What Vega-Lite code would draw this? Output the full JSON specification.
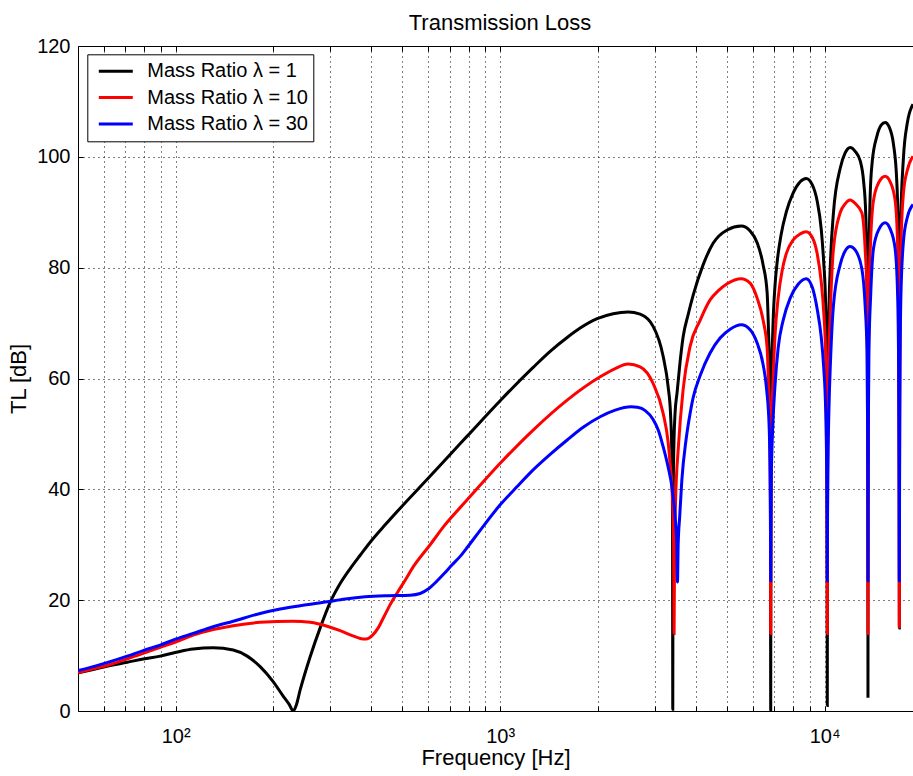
{
  "$schema": "https://vega.github.io/schema/vega-lite/v6.json",
  "autosize": {"type": "none"},
  "padding": {"left": 78, "top": 46, "right": 0, "bottom": 65},
  "width": 835,
  "height": 665,
  "background": "white",
  "config": {
    "font": "Liberation Sans",
    "view": {"stroke": null},
    "axis": {
      "domainColor": "black", "domainWidth": 1, "tickColor": "black", "tickWidth": 1,
      "labelColor": "black", "titleColor": "black", "labelFont": "Liberation Sans", "titleFont": "Liberation Sans",
      "labelFontSize": 20, "titleFontSize": 22, "titleFontWeight": "normal",
      "gridColor": "black", "gridDash": [1, 4], "gridOpacity": 1, "gridWidth": 1
    },
    "legend": {"labelFont": "Liberation Sans"}
  },
  "title": {"text": "Transmission Loss", "fontSize": 22, "fontWeight": "normal", "font": "Liberation Sans", "color": "black", "frame": "group", "anchor": "middle", "dx": 4.5, "dy": 32, "offset": 16, "baseline": "alphabetic"},
  "datasets": {
    "k": [
      {"f":50,"tl":6.9},{"f":55.7,"tl":7.5},{"f":62.8,"tl":8.2},{"f":70.9,"tl":8.8},{"f":79.4,"tl":9.4},{"f":89.6,"tl":9.9},{"f":100.4,"tl":10.6},{"f":113.2,"tl":11.2},{"f":130.5,"tl":11.4},{"f":150.4,"tl":11.0},{"f":166.1,"tl":9.9},{"f":182.1,"tl":8.0},{"f":199.7,"tl":5.3},{"f":214.4,"tl":2.7},{"f":223.8,"tl":1.2},{"f":230.2,"tl":0.0},{"f":235.1,"tl":1.0},{"f":241.9,"tl":3.8},{"f":259.7,"tl":9.8},{"f":278.8,"tl":15.0},{"f":299.3,"tl":19.6},{"f":321.3,"tl":23.0},{"f":345.0,"tl":25.7},{"f":370.3,"tl":28.1},{"f":403.2,"tl":30.9},{"f":442.2,"tl":33.6},{"f":491.9,"tl":36.6},{"f":600,"tl":42.0},{"f":701.3,"tl":46.3},{"f":791.3,"tl":49.6},{"f":1000,"tl":56.0},{"f":1263.9,"tl":62.0},{"f":1425.9,"tl":64.9},{"f":1608.7,"tl":67.4},{"f":1764.1,"tl":69.1},{"f":1990,"tl":70.8},{"f":2230,"tl":71.7},{"f":2480,"tl":72.0},{"f":2700,"tl":71.6},{"f":2961,"tl":69.4},{"f":3179,"tl":64},{"f":3294,"tl":58.5},{"f":3351,"tl":53.5},{"f":3384.7,"tl":45},{"f":3398,"tl":35},{"f":3404,"tl":0.3},{"f":3410,"tl":35},{"f":3423.4,"tl":45},{"f":3457.6,"tl":53.5},{"f":3510,"tl":57.5},{"f":3585,"tl":63},{"f":3663,"tl":67.5},{"f":3795,"tl":71.5},{"f":3932,"tl":75},{"f":4221,"tl":80.5},{"f":4532,"tl":84.4},{"f":5006,"tl":86.8},{"f":5530,"tl":87.5},{"f":5894,"tl":86.6},{"f":6194,"tl":84.5},{"f":6463,"tl":80.5},{"f":6649,"tl":75.5},{"f":6714,"tl":68.5},{"f":6781,"tl":58},{"f":6808,"tl":46},{"f":6820,"tl":0.1},{"f":6832,"tl":46},{"f":6859,"tl":58},{"f":6927,"tl":69},{"f":7036,"tl":77},{"f":7139,"tl":81},{"f":7344,"tl":86},{"f":7613,"tl":90},{"f":8000,"tl":93.5},{"f":8407,"tl":95.5},{"f":8773,"tl":96.1},{"f":9155,"tl":95},{"f":9486,"tl":92},{"f":9759,"tl":87},{"f":9933,"tl":81},{"f":10075,"tl":73},{"f":10139.5,"tl":62},{"f":10171.9,"tl":48},{"f":10190,"tl":1.0},{"f":10208,"tl":48},{"f":10240.7,"tl":62},{"f":10306,"tl":72},{"f":10439,"tl":82},{"f":10645,"tl":89.9},{"f":11163,"tl":97.9},{"f":11566,"tl":100.7},{"f":11984,"tl":101.7},{"f":12417,"tl":101.0},{"f":12865,"tl":99.3},{"f":13188,"tl":95.5},{"f":13380,"tl":90},{"f":13503.8,"tl":80},{"f":13561.5,"tl":65},{"f":13588.4,"tl":50},{"f":13600,"tl":2.4},{"f":13611.6,"tl":50},{"f":13638.6,"tl":65},{"f":13696.8,"tl":80},{"f":13813.9,"tl":93},{"f":14010,"tl":99},{"f":14485,"tl":103.7},{"f":14934,"tl":105.7},{"f":15364,"tl":106.2},{"f":15806,"tl":105.4},{"f":16296,"tl":102.3},{"f":16670,"tl":96},{"f":16846,"tl":87},{"f":16930,"tl":74},{"f":16978,"tl":50},{"f":16990,"tl":15},{"f":17002,"tl":50},{"f":17050,"tl":74},{"f":17135,"tl":87},{"f":17501,"tl":100},{"f":17966,"tl":106},{"f":18720,"tl":109.5}
    ],
    "r": [
      {"f":50,"tl":6.9},{"f":55.7,"tl":7.6},{"f":62.8,"tl":8.4},{"f":70.9,"tl":9.4},{"f":79.4,"tl":10.4},{"f":89.6,"tl":11.5},{"f":100.4,"tl":12.5},{"f":113.2,"tl":13.7},{"f":130.5,"tl":14.7},{"f":150.4,"tl":15.4},{"f":182.1,"tl":16.0},{"f":230.2,"tl":16.2},{"f":259.7,"tl":16.0},{"f":293.0,"tl":15.3},{"f":321.3,"tl":14.5},{"f":349.9,"tl":13.6},{"f":370.3,"tl":13.1},{"f":386.4,"tl":13.0},{"f":403.2,"tl":13.6},{"f":420.8,"tl":15.0},{"f":439.1,"tl":17.1},{"f":458.2,"tl":19.2},{"f":481.5,"tl":21.3},{"f":509.6,"tl":23.6},{"f":539.4,"tl":26.0},{"f":608.5,"tl":30.0},{"f":672.1,"tl":33.4},{"f":791.3,"tl":38.1},{"f":1000,"tl":44.7},{"f":1263.9,"tl":50.7},{"f":1608.7,"tl":56.1},{"f":2033,"tl":60.3},{"f":2262,"tl":61.8},{"f":2480,"tl":62.6},{"f":2700,"tl":62.1},{"f":2961,"tl":59.1},{"f":3179,"tl":53.7},{"f":3294,"tl":48.5},{"f":3339.6,"tl":44.7},{"f":3399.6,"tl":38},{"f":3423.8,"tl":30},{"f":3436,"tl":14.0},{"f":3448.2,"tl":30},{"f":3472.8,"tl":38},{"f":3542.4,"tl":47.7},{"f":3663,"tl":58},{"f":3849,"tl":65.8},{"f":4132,"tl":70.5},{"f":4436,"tl":74.2},{"f":4695,"tl":75.8},{"f":5006,"tl":77.1},{"f":5530,"tl":78.0},{"f":5894,"tl":77.2},{"f":6194,"tl":74.5},{"f":6463,"tl":70.5},{"f":6649,"tl":65.5},{"f":6714,"tl":59},{"f":6781,"tl":50},{"f":6808,"tl":38},{"f":6820,"tl":14.0},{"f":6832,"tl":38},{"f":6859,"tl":50},{"f":6927,"tl":59},{"f":7036,"tl":68},{"f":7190,"tl":74.5},{"f":7397,"tl":79.5},{"f":7613,"tl":82.5},{"f":8000,"tl":85},{"f":8407,"tl":86.1},{"f":8773,"tl":86.5},{"f":9155,"tl":85.5},{"f":9486,"tl":82.5},{"f":9759,"tl":77.5},{"f":9933,"tl":72},{"f":10075,"tl":64},{"f":10139.5,"tl":55},{"f":10171.9,"tl":42},{"f":10190,"tl":14.0},{"f":10208,"tl":42},{"f":10240.7,"tl":55},{"f":10306,"tl":64},{"f":10439,"tl":74},{"f":10645,"tl":83.4},{"f":11163,"tl":89.9},{"f":11566,"tl":91.5},{"f":11984,"tl":92.2},{"f":12417,"tl":91.6},{"f":13021,"tl":89.9},{"f":13329,"tl":83.4},{"f":13503.8,"tl":75},{"f":13561.5,"tl":62},{"f":13588.4,"tl":45},{"f":13600,"tl":14.0},{"f":13611.6,"tl":45},{"f":13638.6,"tl":62},{"f":13696.8,"tl":75},{"f":13863,"tl":85},{"f":14140,"tl":92.1},{"f":14724,"tl":95.5},{"f":15364,"tl":96.5},{"f":15918,"tl":95.5},{"f":16493,"tl":92.1},{"f":16786,"tl":84},{"f":16905.8,"tl":70},{"f":16959.9,"tl":52},{"f":16990,"tl":15.2},{"f":17020,"tl":52},{"f":17074.6,"tl":70},{"f":17183,"tl":84},{"f":17501,"tl":93.6},{"f":17966,"tl":97.5},{"f":18720,"tl":100.1}
    ],
    "b": [
      {"f":50,"tl":7.3},{"f":55.7,"tl":8.0},{"f":62.8,"tl":8.9},{"f":70.9,"tl":9.9},{"f":79.4,"tl":10.9},{"f":89.6,"tl":11.9},{"f":100.4,"tl":13.0},{"f":113.2,"tl":14.0},{"f":130.5,"tl":15.2},{"f":150.4,"tl":16.2},{"f":182.1,"tl":17.6},{"f":209.9,"tl":18.4},{"f":241.9,"tl":19.0},{"f":293.0,"tl":19.7},{"f":333.0,"tl":20.2},{"f":383.7,"tl":20.6},{"f":442.2,"tl":20.8},{"f":528.0,"tl":20.9},{"f":566.9,"tl":21.2},{"f":600,"tl":22.0},{"f":635,"tl":23.3},{"f":672.1,"tl":24.8},{"f":711.3,"tl":26.4},{"f":752.9,"tl":27.9},{"f":791.3,"tl":29.5},{"f":867.7,"tl":32.6},{"f":1000,"tl":37.2},{"f":1128.2,"tl":40.5},{"f":1263.9,"tl":43.5},{"f":1425.9,"tl":46.3},{"f":1608.7,"tl":48.9},{"f":1802,"tl":51.2},{"f":2033,"tl":53.1},{"f":2262,"tl":54.3},{"f":2533,"tl":54.9},{"f":2650,"tl":54.8},{"f":2800,"tl":54.2},{"f":2961,"tl":52.6},{"f":3080,"tl":50.5},{"f":3179,"tl":47.7},{"f":3294,"tl":44},{"f":3381.9,"tl":40.5},{"f":3462,"tl":35},{"f":3501.6,"tl":30},{"f":3519,"tl":23.3},{"f":3536.5,"tl":30},{"f":3574.4,"tl":35},{"f":3630.6,"tl":41.7},{"f":3741,"tl":49},{"f":3849,"tl":53.7},{"f":3932,"tl":56.5},{"f":4132,"tl":60.5},{"f":4436,"tl":64.6},{"f":4762,"tl":67.3},{"f":5114,"tl":68.9},{"f":5530,"tl":69.7},{"f":5894,"tl":68.8},{"f":6194,"tl":66.4},{"f":6463,"tl":62.5},{"f":6626,"tl":58},{"f":6748,"tl":51},{"f":6791,"tl":42},{"f":6810,"tl":32},{"f":6820,"tl":23.5},{"f":6830,"tl":32},{"f":6849,"tl":42},{"f":6917.5,"tl":51},{"f":7036,"tl":59},{"f":7190,"tl":65.5},{"f":7449,"tl":70.5},{"f":7831,"tl":74.5},{"f":8285,"tl":77.0},{"f":8773,"tl":78.0},{"f":9155,"tl":76.5},{"f":9486,"tl":72.5},{"f":9759,"tl":67.5},{"f":9933,"tl":62},{"f":10075,"tl":54},{"f":10139.5,"tl":45},{"f":10171.9,"tl":35},{"f":10190,"tl":23.5},{"f":10208,"tl":35},{"f":10240.7,"tl":45},{"f":10306,"tl":54},{"f":10439,"tl":64},{"f":10645,"tl":73.2},{"f":11163,"tl":80.5},{"f":11566,"tl":83.0},{"f":11984,"tl":83.8},{"f":12417,"tl":83.2},{"f":13021,"tl":79.8},{"f":13329,"tl":73.2},{"f":13503.8,"tl":65},{"f":13561.5,"tl":52},{"f":13588.4,"tl":35},{"f":13600,"tl":23.5},{"f":13611.6,"tl":35},{"f":13638.6,"tl":52},{"f":13696.8,"tl":65},{"f":13863,"tl":75},{"f":14140,"tl":83.4},{"f":14724,"tl":87},{"f":15364,"tl":88.1},{"f":15918,"tl":87},{"f":16493,"tl":83.4},{"f":16786,"tl":75},{"f":16905.8,"tl":62},{"f":16959.9,"tl":42},{"f":16990,"tl":23.5},{"f":17020,"tl":42},{"f":17074.6,"tl":62},{"f":17183,"tl":75},{"f":17501,"tl":84.9},{"f":17966,"tl":89},{"f":18720,"tl":91.4}
    ]
  },
  "layer": [
    {
      "data": {"name": "k"},
      "mark": {"type": "line", "strokeWidth": 3, "clip": true, "strokeCap": "butt", "interpolate": "monotone"},
      "encoding": {
        "x": {"field": "f", "type": "quantitative",
          "scale": {"type": "log", "domain": [50, 18720], "nice": false},
          "axis": {"orient": "bottom", "values": [60,70,80,90,100,200,300,400,500,600,700,800,900,1000,2000,3000,4000,5000,6000,7000,8000,9000,10000],
            "labelExpr": "datum.value == 100 ? '10²' : datum.value == 1000 ? '10³' : datum.value == 10000 ? '10⁴' : ''",
            "labelOverlap": false, "labelFlush": false, "tickSize": -5, "labelPadding": 20, "labelBaseline": "top",
            "grid": true, "title": "Frequency [Hz]", "titleY": 53, "titleBaseline": "alphabetic"}},
        "y": {"field": "tl", "type": "quantitative",
          "scale": {"domain": [0, 120], "nice": false},
          "axis": {"values": [0,20,40,60,80,100,120], "tickSize": -5, "labelPadding": 13, "grid": true,
            "title": "TL [dB]", "titleX": -60, "titleBaseline": "middle", "labelFlush": false}},
        "color": {"datum": "Mass Ratio λ = 1", "type": "nominal",
          "scale": {"domain": ["Mass Ratio λ = 1", "Mass Ratio λ = 10", "Mass Ratio λ = 30"], "range": ["#000000", "#ff0000", "#0000ff"]},
          "legend": {"orient": "none", "legendX": 9.3, "legendY": 8.3, "title": null, "strokeColor": "black", "fillColor": "white",
            "padding": 5, "symbolOffset": 5, "clipHeight": 24, "symbolType": "stroke", "symbolSize": 1156, "symbolStrokeWidth": 3, "labelFontSize": 20, "labelOffset": 13,
            "labelLimit": 400,
            "rowPadding": 2.3, "labelColor": "black", "cornerRadius": 0}}
      }
    },
    {
      "data": {"name": "r"},
      "mark": {"type": "line", "strokeWidth": 3, "clip": true, "strokeCap": "butt", "interpolate": "monotone"},
      "encoding": {
        "x": {"field": "f", "type": "quantitative",
          "axis": {"orient": "top", "values": [60,70,80,90,100,200,300,400,500,600,700,800,900,1000,2000,3000,4000,5000,6000,7000,8000,9000,10000],
            "labels": false, "tickSize": -5, "grid": false, "title": null, "domain": true}},
        "y": {"field": "tl", "type": "quantitative"},
        "color": {"datum": "Mass Ratio λ = 10", "type": "nominal"}
      }
    },
    {
      "data": {"name": "b"},
      "mark": {"type": "line", "strokeWidth": 3, "clip": true, "strokeCap": "butt", "interpolate": "monotone"},
      "encoding": {
        "x": {"field": "f", "type": "quantitative", "axis": null},
        "y": {"field": "tl", "type": "quantitative"},
        "color": {"datum": "Mass Ratio λ = 30", "type": "nominal"}
      }
    }
  ],
  "resolve": {"axis": {"x": "independent"}}
}
